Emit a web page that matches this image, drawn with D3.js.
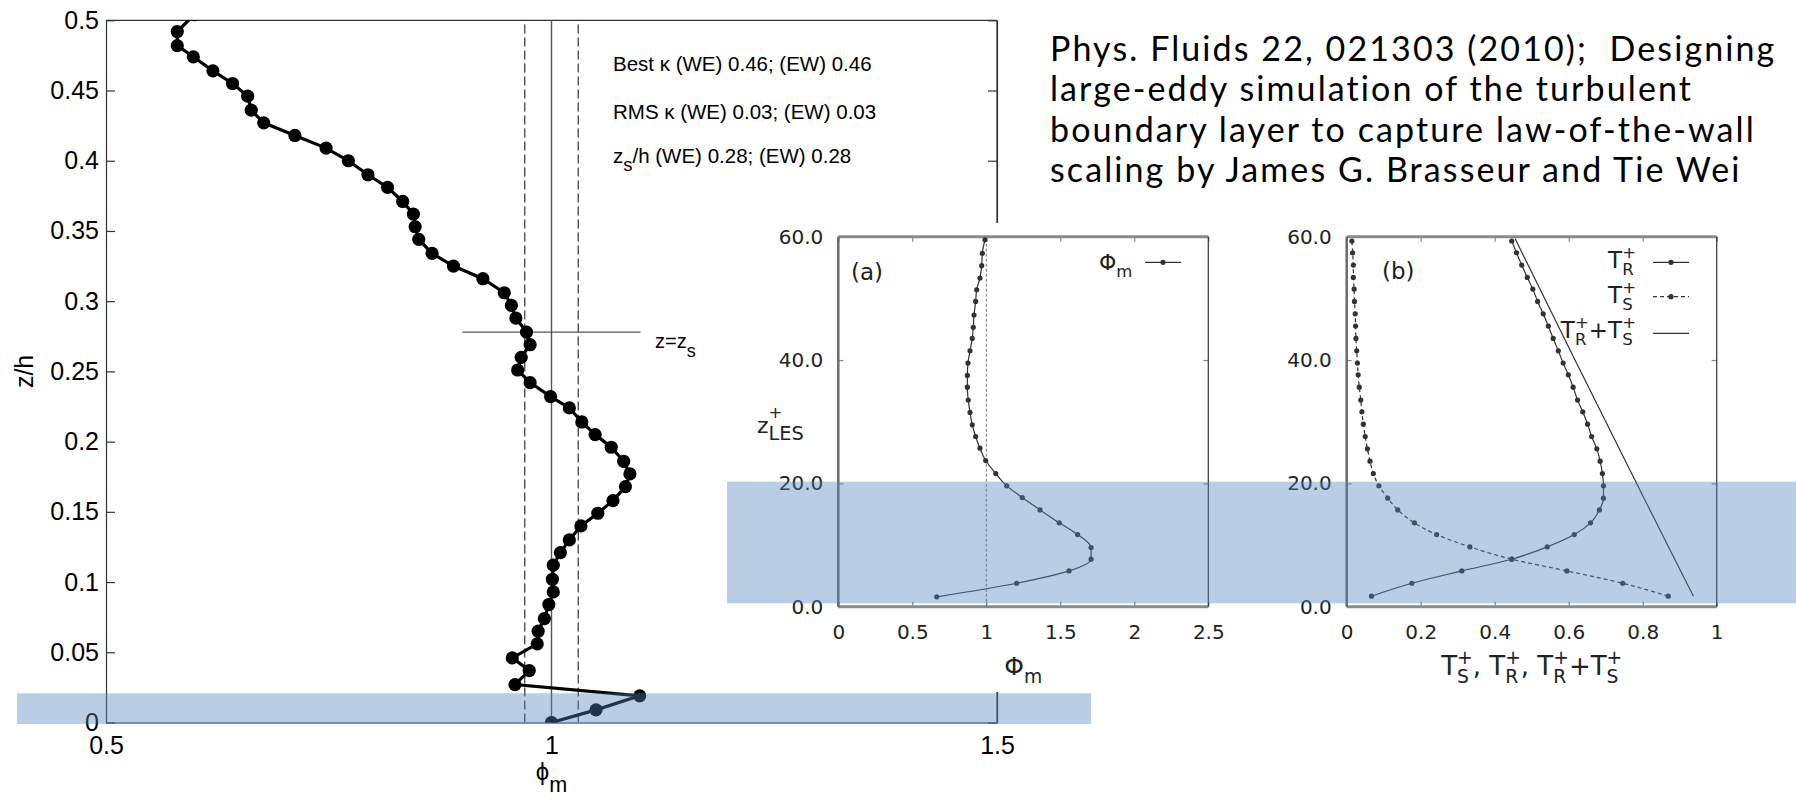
<!DOCTYPE html>
<html>
<head>
<meta charset="utf-8">
<script src="https://cdn.jsdelivr.net/npm/d3@7/dist/d3.min.js"></script>
<style>
  body { margin: 0; background: #fff; }
  svg { display: block; }
</style>
</head>
<body>
<svg id="chart" width="1796" height="800"></svg>
<script>
// ---------------- data ----------------
// main LES profile, phi_m against z/h (listed top to bottom)
var zMain = [0.504, 0.492, 0.482, 0.474, 0.464, 0.455, 0.446, 0.436, 0.427, 0.418,
             0.409, 0.400, 0.390, 0.381, 0.371, 0.362, 0.353, 0.344, 0.334, 0.325,
             0.316, 0.306, 0.297, 0.288, 0.278, 0.269, 0.260, 0.251, 0.242, 0.232,
             0.224, 0.214, 0.205, 0.196, 0.186, 0.177, 0.168, 0.158, 0.149, 0.140,
             0.130, 0.121, 0.112, 0.102, 0.093, 0.084, 0.074, 0.065, 0.056, 0.046,
             0.037, 0.027, 0.019, 0.009, 0.0];
var phiMain = [0.599, 0.580, 0.580, 0.598, 0.620, 0.642, 0.659, 0.663, 0.677, 0.712,
               0.747, 0.772, 0.794, 0.816, 0.833, 0.845, 0.847, 0.851, 0.866, 0.890,
               0.923, 0.947, 0.955, 0.960, 0.972, 0.976, 0.966, 0.962, 0.976, 0.999,
               1.020, 1.034, 1.049, 1.067, 1.081, 1.088, 1.083, 1.069, 1.052, 1.033,
               1.020, 1.010, 1.002, 1.001, 1.002, 0.997, 0.992, 0.985, 0.984, 0.956,
               0.975, 0.959, 1.099, 1.050, 1.000];
var mainYTicks = [0, 0.05, 0.1, 0.15, 0.2, 0.25, 0.3, 0.35, 0.4, 0.45, 0.5];
var mainXTicks = [0.5, 1, 1.5];
var phiRef = 1;
var kappaBand = [0.97, 1.03];
var zsOverH = 0.278;
var zsSpan = [0.9, 1.1];
var notes = ["Best \u03ba (WE) 0.46; (EW) 0.46", "RMS \u03ba (WE) 0.03; (EW) 0.03"];
var noteZs = "/h (WE) 0.28; (EW) 0.28";

// inset (a): Phi_m against z+_LES
var zPlusA = [1.6, 3.8, 5.8, 7.7, 9.6, 11.7, 13.6, 15.7, 17.7, 19.6,
              21.6, 23.7, 25.7, 27.6, 29.5, 31.5, 33.5, 35.6, 37.5, 39.5,
              41.5, 43.5, 45.3, 47.3, 49.5, 51.4, 53.3, 55.3, 57.3, 59.5];
var phiA = [0.665, 1.205, 1.559, 1.708, 1.708, 1.617, 1.493, 1.363, 1.243, 1.138,
            1.064, 0.996, 0.957, 0.928, 0.905, 0.890, 0.878, 0.872, 0.872, 0.876,
            0.890, 0.905, 0.912, 0.917, 0.928, 0.935, 0.957, 0.969, 0.973, 0.991];

// inset (b): resolved / subfilter stress
var zPlusB = [1.7, 3.8, 5.8, 7.7, 9.7, 11.7, 13.6, 15.7, 17.6, 19.6,
              21.6, 23.6, 25.6, 27.6, 29.6, 31.6, 33.5, 35.6, 37.6, 39.5,
              41.5, 43.5, 45.5, 47.5, 49.5, 51.5, 53.4, 55.4, 57.4, 59.3];
var tR = [0.067, 0.176, 0.311, 0.446, 0.542, 0.615, 0.659, 0.683, 0.694, 0.694,
          0.691, 0.685, 0.676, 0.662, 0.651, 0.638, 0.624, 0.612, 0.599, 0.585,
          0.572, 0.558, 0.545, 0.531, 0.516, 0.503, 0.488, 0.473, 0.459, 0.446];
var tS = [0.869, 0.746, 0.595, 0.446, 0.333, 0.243, 0.183, 0.138, 0.111, 0.087,
          0.072, 0.063, 0.056, 0.050, 0.045, 0.041, 0.038, 0.034, 0.031, 0.029,
          0.027, 0.025, 0.024, 0.023, 0.021, 0.020, 0.018, 0.018, 0.016, 0.014];
var zPlusSum = [1.7, 8.7, 20.3, 40.0, 59.7];
var tSum = [0.937, 0.878, 0.781, 0.617, 0.455];

var panelYTicks = [0, 20, 40, 60];
var panelAXTicks = [0, 0.5, 1, 1.5, 2, 2.5];
var panelBXTicks = [0, 0.2, 0.4, 0.6, 0.8, 1];

var titleLines = [
  "Phys. Fluids 22, 021303 (2010);  Designing",
  "large-eddy simulation of the turbulent",
  "boundary layer to capture law-of-the-wall",
  "scaling by James G. Brasseur and Tie Wei"
];

// ---------------- helpers ----------------
var arial = "'Liberation Sans', Arial, Helvetica, sans-serif";
var gpFont = "'DejaVu Sans', Verdana, sans-serif";
var svg = d3.select("#chart");

// text with stacked super/subscripts, measured piece by piece
function rich(parent, x, y, segs, size, anchor) {
  var g = parent.append("g");
  var cx = 0;
  segs.forEach(function (s) {
    if (typeof s === "string") s = { t: s };
    var w = 0, ws = 0;
    if (s.t) {
      w = g.append("text").attr("x", cx).attr("font-size", size)
        .style("white-space", "pre").text(s.t).node().getComputedTextLength();
    }
    if (s.sup) {
      ws = g.append("text").attr("x", cx + w).attr("y", size * (s.supDy || -0.42))
        .attr("font-size", size * (s.supScale || 0.72)).text(s.sup)
        .node().getComputedTextLength();
    }
    if (s.sub) {
      ws = Math.max(ws, g.append("text").attr("x", cx + w).attr("y", size * (s.subDy || 0.32))
        .attr("font-size", size * (s.subScale || 0.72)).text(s.sub)
        .node().getComputedTextLength());
    }
    cx += w + ws;
  });
  var shift = anchor === "end" ? cx : anchor === "middle" ? cx / 2 : 0;
  g.attr("transform", "translate(" + (x - shift) + "," + y + ")");
  return g;
}

// ---------------- main chart ----------------
var xM = d3.scaleLinear().domain([0.5, 1.5]).range([106, 997]);
var yM = d3.scaleLinear().domain([0, 0.5]).range([722.5, 20.3]);

svg.append("clipPath").attr("id", "clipMain").append("rect")
  .attr("x", xM(0.5)).attr("y", yM(0.5))
  .attr("width", xM(1.5) - xM(0.5)).attr("height", yM(0) - yM(0.5));

var main = svg.append("g").attr("font-family", arial).attr("fill", "#000");

// top border
main.append("line")
  .attr("x1", xM(0.5)).attr("x2", xM(1.5)).attr("y1", yM(0.5)).attr("y2", yM(0.5))
  .attr("stroke", "#333").attr("stroke-width", 1.2);

// right border, ticks pointing in
main.append("g").attr("transform", "translate(" + xM(1.5) + ",0)")
  .call(d3.axisLeft(yM).tickValues(mainYTicks).tickSize(9).tickSizeOuter(0).tickFormat(""));

// left axis
main.append("g").attr("transform", "translate(" + xM(0.5) + ",0)")
  .call(d3.axisLeft(yM).tickValues(mainYTicks).tickSize(-9).tickSizeOuter(0)
    .tickPadding(7).tickFormat(d3.format("~g")));

// bottom axis
main.append("g").attr("transform", "translate(0," + yM(0) + ")")
  .call(d3.axisBottom(xM).tickValues(mainXTicks).tickSize(0).tickSizeOuter(0)
    .tickPadding(14).tickFormat(d3.format("~g")));
main.append("line")
  .attr("x1", xM(1.5)).attr("x2", xM(1.5)).attr("y1", yM(0)).attr("y2", yM(0.5))
  .attr("stroke", "#333").attr("stroke-width", 1.2);

main.selectAll(".domain").attr("stroke", "#333").attr("stroke-width", 1.2);
main.selectAll(".tick line").attr("stroke", "#333").attr("stroke-width", 1.2);
main.selectAll(".tick text").attr("font-family", arial).attr("font-size", 25).attr("fill", "#000");

// reference lines
kappaBand.forEach(function (v) {
  main.append("line")
    .attr("x1", xM(v)).attr("x2", xM(v)).attr("y1", yM(0)).attr("y2", yM(0.5))
    .attr("stroke", "#333").attr("stroke-width", 1.2).attr("stroke-dasharray", "9,4");
});
main.append("line")
  .attr("x1", xM(phiRef)).attr("x2", xM(phiRef)).attr("y1", yM(0)).attr("y2", yM(0.5))
  .attr("stroke", "#555").attr("stroke-width", 1.4);
main.append("line")
  .attr("x1", xM(zsSpan[0])).attr("x2", xM(zsSpan[1])).attr("y1", yM(zsOverH)).attr("y2", yM(zsOverH))
  .attr("stroke", "#555").attr("stroke-width", 1.4);

// profile
var mainPts = zMain.map(function (z, i) { return [phiMain[i], z]; });
var dataG = main.append("g").attr("clip-path", "url(#clipMain)");
dataG.append("path").datum(mainPts)
  .attr("fill", "none").attr("stroke", "#000").attr("stroke-width", 3.2)
  .attr("d", d3.line().x(function (d) { return xM(d[0]); }).y(function (d) { return yM(d[1]); }));
dataG.selectAll("circle").data(mainPts).enter().append("circle")
  .attr("cx", function (d) { return xM(d[0]); })
  .attr("cy", function (d) { return yM(d[1]); })
  .attr("r", 6.6).attr("fill", "#000");

// annotations
main.append("text").attr("x", 613).attr("y", 71).attr("font-size", 20.5).text(notes[0]);
main.append("text").attr("x", 613).attr("y", 119).attr("font-size", 20.5).text(notes[1]);
rich(main, 613, 163, [{ t: "z", sub: "s", subScale: 0.9, subDy: 0.4 }, noteZs], 20.5);
rich(main, 655, 348, [{ t: "z=z", sub: "s", subScale: 0.9, subDy: 0.45 }], 20);

// axis titles
main.append("text")
  .attr("transform", "translate(33," + yM(0.25) + ") rotate(-90)")
  .attr("text-anchor", "middle").attr("font-size", 25).text("z/h");
rich(main, xM(1), 780, [{ t: "\u03d5", sub: "m", subScale: 0.9, subDy: 0.48 }], 24, "middle");

// ---------------- inset picture (covers part of main chart) ----------------
svg.append("rect").attr("x", 727).attr("y", 223).attr("width", 1069).attr("height", 469)
  .attr("fill", "#fff");

var yP = d3.scaleLinear().domain([0, 60]).range([606.7, 236.7]);
var xA = d3.scaleLinear().domain([0, 2.5]).range([838.3, 1208.3]);
var xB = d3.scaleLinear().domain([0, 1]).range([1346.7, 1716.7]);

function panel(xS, xTicks) {
  var g = svg.append("g").attr("font-family", gpFont).attr("fill", "#222");
  var x0 = xS.range()[0], x1 = xS.range()[1], y0 = yP.range()[0], y1 = yP.range()[1];
  g.append("g").attr("transform", "translate(0," + y0 + ")")
    .call(d3.axisBottom(xS).tickValues(xTicks).tickSize(-5).tickSizeOuter(0)
      .tickPadding(18).tickFormat(d3.format("~g")));
  g.append("g").attr("transform", "translate(0," + y1 + ")")
    .call(d3.axisTop(xS).tickValues(xTicks).tickSize(-5).tickSizeOuter(0).tickFormat(""));
  g.append("g").attr("transform", "translate(" + x0 + ",0)")
    .call(d3.axisLeft(yP).tickValues(panelYTicks).tickSize(-5).tickSizeOuter(0)
      .tickPadding(15).tickFormat(d3.format(".1f")));
  g.append("g").attr("transform", "translate(" + x1 + ",0)")
    .call(d3.axisRight(yP).tickValues(panelYTicks).tickSize(-5).tickSizeOuter(0).tickFormat(""));
  g.selectAll(".domain").remove();
  g.selectAll(".tick line").attr("stroke", "#888").attr("stroke-width", 1.2);
  g.selectAll(".tick text").attr("font-family", gpFont).attr("font-size", 20).attr("fill", "#222");
  // frame
  g.append("line").attr("x1", x0).attr("x2", x1).attr("y1", y1).attr("y2", y1)
    .attr("stroke", "#8a8a8a").attr("stroke-width", 3);
  g.append("line").attr("x1", x0).attr("x2", x1).attr("y1", y0).attr("y2", y0)
    .attr("stroke", "#8a8a8a").attr("stroke-width", 3);
  g.append("line").attr("x1", x0).attr("x2", x0).attr("y1", y1).attr("y2", y0)
    .attr("stroke", "#6a6a6a").attr("stroke-width", 2.5);
  g.append("line").attr("x1", x1).attr("x2", x1).attr("y1", y1).attr("y2", y0)
    .attr("stroke", "#333").attr("stroke-width", 1.2);
  return g;
}

function series(g, xS, xs, zs, dash, dots) {
  var pts = zs.map(function (z, i) { return [xs[i], z]; });
  g.append("path").datum(pts)
    .attr("fill", "none").attr("stroke", "#333").attr("stroke-width", 1.2)
    .attr("stroke-dasharray", dash)
    .attr("d", d3.line().curve(d3.curveMonotoneY)
      .x(function (d) { return xS(d[0]); }).y(function (d) { return yP(d[1]); }));
  if (dots) {
    g.selectAll(null).data(pts).enter().append("circle")
      .attr("cx", function (d) { return xS(d[0]); })
      .attr("cy", function (d) { return yP(d[1]); })
      .attr("r", 2.6).attr("fill", "#333");
  }
}

function legendRow(g, x, y, dash, dot) {
  g.append("line").attr("x1", x).attr("x2", x + 36).attr("y1", y).attr("y2", y)
    .attr("stroke", "#333").attr("stroke-width", 1.2).attr("stroke-dasharray", dash);
  if (dot) g.append("circle").attr("cx", x + 18).attr("cy", y).attr("r", 2.6).attr("fill", "#333");
}

// panel (a)
var pa = panel(xA, panelAXTicks);
pa.append("line").attr("x1", xA(phiRef)).attr("x2", xA(phiRef)).attr("y1", yP(0)).attr("y2", yP(60))
  .attr("stroke", "#666").attr("stroke-width", 0.9).attr("stroke-dasharray", "3,2");
series(pa, xA, phiA, zPlusA, null, true);
pa.append("text").attr("x", 851).attr("y", 280).attr("font-size", 23).text("(a)");
rich(pa, 1099, 270, [{ t: "\u03a6", sub: "m", subDy: 0.3, subScale: 0.75 }], 22);
legendRow(pa, 1145, 262.3, null, true);
rich(pa, 757, 433, [{ t: "z", sup: "+", supDy: -0.7, supScale: 0.75, sub: "LES", subDy: 0.32, subScale: 0.88 }], 22);
rich(pa, xA(1.25), 675, [{ t: "\u03a6", sub: "m", subDy: 0.32, subScale: 0.75 }], 25, "middle");

// panel (b)
var pb = panel(xB, panelBXTicks);
series(pb, xB, tSum, zPlusSum, null, false);
series(pb, xB, tS, zPlusB, "4,3", true);
series(pb, xB, tR, zPlusB, null, true);
pb.append("text").attr("x", 1382).attr("y", 279).attr("font-size", 23).text("(b)");
rich(pb, 1636, 268, [{ t: "T", sup: "+", sub: "R" }], 23, "end");
rich(pb, 1636, 303, [{ t: "T", sup: "+", sub: "S" }], 23, "end");
rich(pb, 1636, 338, [{ t: "T", sup: "+", sub: "R" }, { t: "+T", sup: "+", sub: "S" }], 23, "end");
legendRow(pb, 1653, 262.3, null, true);
legendRow(pb, 1653, 296.7, "4,3", true);
legendRow(pb, 1653, 333.3, null, false);
rich(pb, xB(0.5), 675, [
  { t: "T", sup: "+", sub: "S" }, { t: ", T", sup: "+", sub: "R" },
  { t: ", T", sup: "+", sub: "R" }, { t: "+T", sup: "+", sub: "S" }
], 26, "middle");

// ---------------- citation text ----------------
svg.append("g").attr("font-family", "Lato, 'Open Sans', sans-serif").attr("font-size", 34)
  .attr("letter-spacing", 2.1)
  .selectAll("text").data(titleLines).enter().append("text")
  .attr("x", 1050).attr("y", function (d, i) { return 61 + i * 40.3; })
  .style("white-space", "pre").text(function (d) { return d; });

// ---------------- highlight bands ----------------
svg.append("rect").attr("x", 17).attr("y", 693.3).attr("width", 1074).attr("height", 30.7)
  .attr("fill", "#4f81bd").attr("opacity", 0.4);
svg.append("rect").attr("x", 727).attr("y", 481.7).attr("width", 1069).attr("height", 121.6)
  .attr("fill", "#4f81bd").attr("opacity", 0.4);
</script>
</body>
</html>
